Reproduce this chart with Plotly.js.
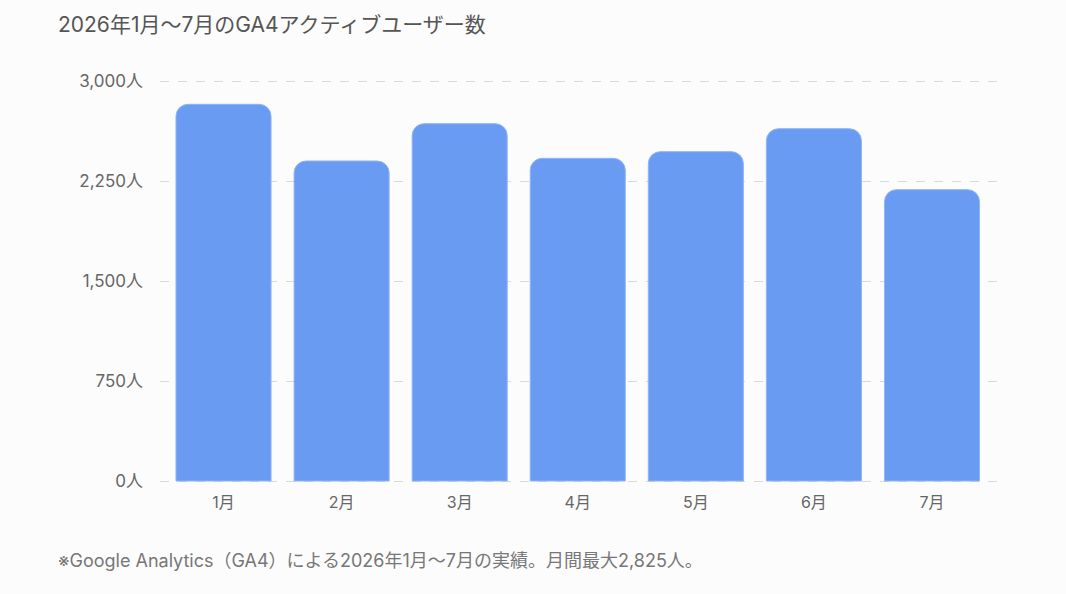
<!DOCTYPE html>
<html>
<head>
<meta charset="utf-8">
<script src="https://cdn.plot.ly/plotly-3.0.1.min.js"></script>
<style>
  html, body { margin: 0; padding: 0; background: #fcfcfc; }
  #chart { width: 1066px; height: 594px; }
</style>
</head>
<body>
<div id="chart"></div>
<script>
// 月別アクティブユーザー数（GA4）
var months = ["1月", "2月", "3月", "4月", "5月", "6月", "7月"];
var activeUsers = [2825, 2400, 2680, 2420, 2470, 2642, 2185];
var yTicks = [0, 750, 1500, 2250, 3000];
var yTickText = yTicks.map(function (v) { return v.toLocaleString('en-US') + '人'; });

var fontFamily = 'Inter, "Noto Sans CJK JP", sans-serif';

var barTrace = {
    type: 'bar',
    x: months,
    y: activeUsers,
    marker: {
        color: '#6a9bf3',
        cornerradius: 12,
        line: { color: '#8fb3f6', width: 1 }
    },
    hovertemplate: '%{x}: %{y:,}人<extra></extra>'
};

var layout = {
    width: 1066,
    height: 594,
    paper_bgcolor: '#fcfcfc',
    plot_bgcolor: '#fcfcfc',
    // 5px of padding above 3,000 and below 0 so those grid lines are drawn
    margin: { t: 76, b: 108, l: 160, r: 68 },
    bargap: 0.195,
    showlegend: false,
    font: { family: fontFamily, color: '#666666', size: 16 },
    title: {
        text: '2026年1月〜7月のGA4アクティブユーザー数',
        font: { family: fontFamily, size: 21, color: '#555555' },
        x: 58 / 1066,
        xanchor: 'left',
        xref: 'container',
        y: 1 - 25 / 594,
        yanchor: 'middle',
        yref: 'container'
    },
    xaxis: {
        range: [-0.538, 6.559],
        showgrid: false,
        zeroline: false,
        showline: false,
        ticks: '',
        ticklabelstandoff: 5,
        tickfont: { size: 16, color: '#666666' }
    },
    yaxis: {
        range: [-37.5, 3037.5],
        tickmode: 'array',
        tickvals: yTicks,
        ticktext: yTickText,
        showgrid: true,
        gridcolor: '#d9d9d9',
        griddash: 'dash',
        gridwidth: 1,
        zeroline: false,
        showline: false,
        ticks: '',
        ticklabelstandoff: 16,
        tickfont: { size: 17, color: '#666666' }
    },
    annotations: [
        {
            text: '※Google Analytics（GA4）による2026年1月〜7月の実績。月間最大2,825人。',
            xref: 'paper',
            yref: 'paper',
            x: (56 - 160) / 838,
            y: (486 - 560) / 410,
            xanchor: 'left',
            yanchor: 'middle',
            showarrow: false,
            font: { family: fontFamily, size: 18, color: '#777777' }
        }
    ]
};

var config = { responsive: false, displaylogo: false, displayModeBar: false };

Plotly.newPlot('chart', [barTrace], layout, config);
</script>
</body>
</html>
